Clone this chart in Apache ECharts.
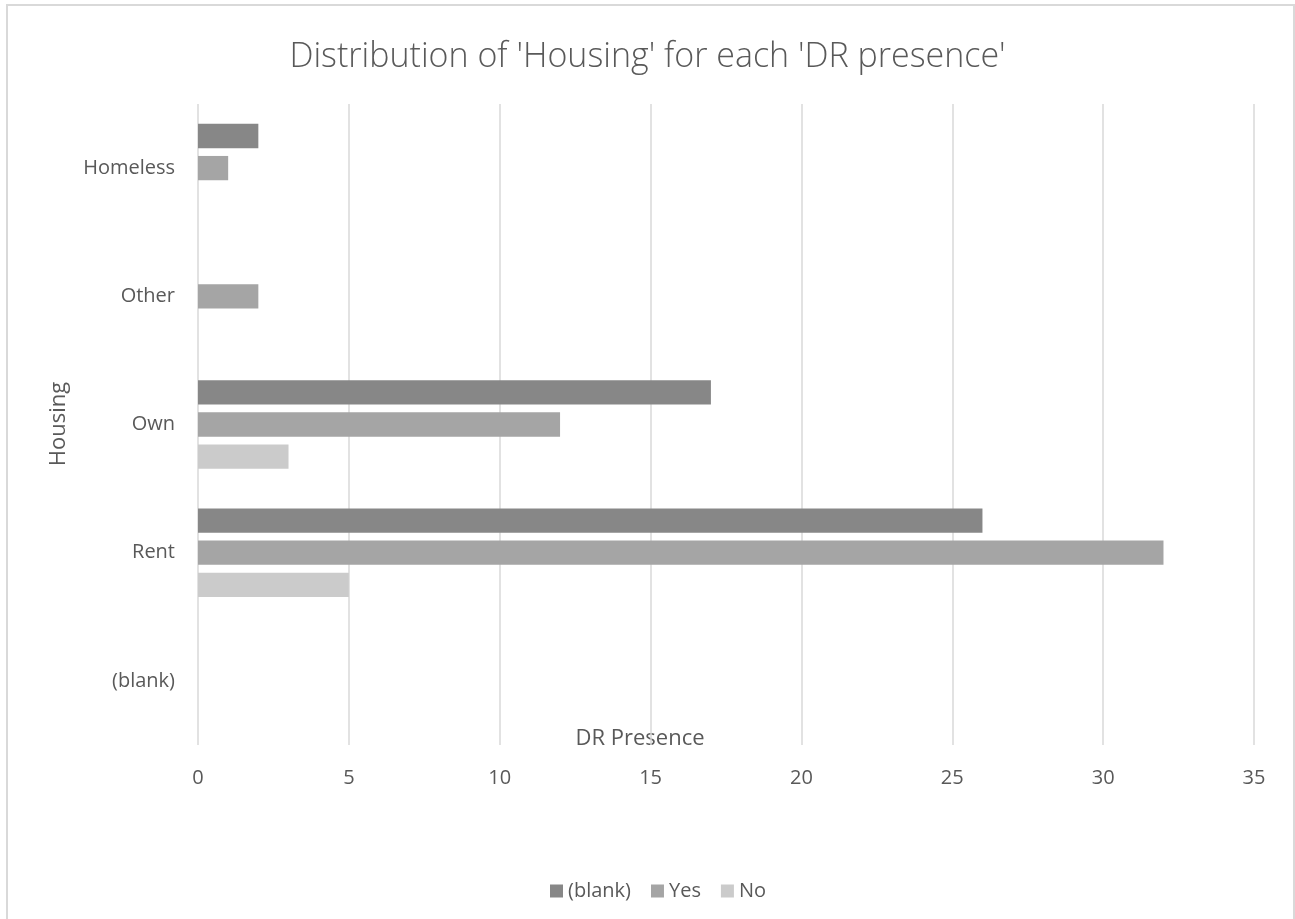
<!DOCTYPE html>
<html>
<head>
<meta charset="utf-8">
<script src="https://cdn.jsdelivr.net/npm/echarts@6/dist/echarts.min.js"></script>
<style>
html,body{margin:0;padding:0;background:#fff;}
#chart{width:1295px;height:919px;}
</style>
</head>
<body>
<div id="chart"></div>
<script>
var categories = ['Homeless', 'Other', 'Own', 'Rent', '(blank)'];
var seriesNames = ['(blank)', 'Yes', 'No'];
var blankValues = [2, 0, 17, 26, 0];
var yesValues = [1, 2, 12, 32, 0];
var noValues = [0, 0, 3, 5, 0];
var xTicks = [0, 5, 10, 15, 20, 25, 30, 35];

var FONT = 'Open Sans';
var TXT = '#595959';
var colors = ['#878787', '#a5a5a5', '#cbcbcb'];
var values = [blankValues, yesValues, noValues];

var chart = echarts.init(document.getElementById('chart'));
var series = seriesNames.map(function (name, i) {
  return {
    name: name,
    type: 'bar',
    data: values[i],
    barWidth: 24.3,
    barGap: '32%',
    itemStyle: { color: colors[i] },
    emphasis: { disabled: true }
  };
});

chart.setOption({
  animation: false,
  color: colors,
  title: {
    text: "Distribution of 'Housing' for each 'DR presence'",
    left: 'center',
    top: 35,
    textStyle: { fontFamily: FONT, fontSize: 34, fontWeight: 300, color: TXT }
  },
  legend: {
    data: seriesNames,
    left: 545,
    top: 876,
    icon: 'rect',
    itemWidth: 13,
    itemHeight: 13,
    itemGap: 20,
    textStyle: { fontFamily: FONT, fontSize: 20, color: TXT, padding: [0, 0, 0, 0] }
  },
  grid: { left: 198, right: 41, top: 104, bottom: 174, containLabel: false },
  xAxis: {
    type: 'value',
    min: xTicks[0],
    max: xTicks[xTicks.length - 1],
    interval: 5,
    axisLine: { show: false },
    axisTick: { show: false },
    axisLabel: { fontFamily: FONT, fontSize: 20, color: TXT, margin: 23 },
    splitLine: { show: true, lineStyle: { color: '#d9d9d9', width: 1.5 } }
  },
  yAxis: {
    type: 'category',
    data: categories,
    inverse: true,
    axisLine: { show: false },
    axisTick: { show: false },
    splitLine: { show: false },
    axisLabel: { fontFamily: FONT, fontSize: 20, color: TXT, margin: 23 }
  },
  graphic: [
    {
      type: 'rect',
      shape: { x: 7, y: 5, width: 1287, height: 1000 },
      style: { fill: 'none', stroke: '#d9d9d9', lineWidth: 2 },
      silent: true
    },
    {
      type: 'text',
      x: 640, y: 739,
      style: { text: 'DR Presence', fontFamily: FONT, fontSize: 22, fill: TXT, align: 'center', verticalAlign: 'middle' },
      silent: true
    },
    {
      type: 'text',
      x: 59, y: 424,
      rotation: Math.PI / 2,
      style: { text: 'Housing', fontFamily: FONT, fontSize: 22, fill: TXT, align: 'center', verticalAlign: 'middle' },
      silent: true
    }
  ],
  series: series
});
</script>
</body>
</html>
